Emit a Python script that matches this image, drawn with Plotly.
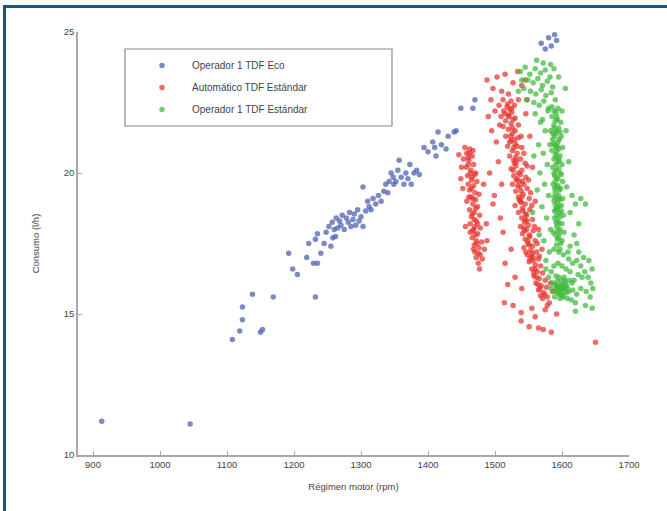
import plotly.graph_objects as go

# ---- data (rpm, l/h) ----
eco_points = [
    (913, 11.2), (1045, 11.1),
    (1108, 14.1), (1119, 14.4), (1123, 14.8), (1123, 15.25), (1138, 15.7), (1150, 14.35), (1153, 14.45),
    (1169, 15.6), (1232, 15.6),
    (1192, 17.15), (1198, 16.6), (1205, 16.4), (1219, 17.0), (1229, 16.8), (1235, 16.8), (1240, 17.15),
    (1222, 17.5), (1232, 17.65), (1235, 17.85), (1255, 17.4), (1258, 17.7), (1260, 18.0), (1263, 18.4),
    (1270, 18.15), (1275, 18.0), (1281, 18.25), (1283, 18.6), (1288, 18.35), (1292, 18.15), (1295, 18.7),
    (1300, 18.45), (1303, 18.1), (1303, 19.5), (1307, 18.65), (1312, 18.8), (1318, 19.1), (1322, 18.9),
    (1330, 19.0), (1334, 19.35), (1337, 19.6), (1342, 19.7), (1348, 19.85), (1349, 19.6), (1355, 20.1),
    (1357, 20.45), (1360, 19.85), (1364, 19.6), (1367, 20.0), (1373, 20.3), (1375, 19.6), (1379, 20.0),
    (1387, 19.95), (1394, 20.9), (1400, 20.75), (1407, 21.1), (1412, 20.6), (1415, 21.45), (1430, 21.3),
    (1427, 20.85), (1442, 21.5), (1439, 21.45),
    (1449, 22.3), (1467, 22.3), (1470, 22.6),
    (1569, 24.6), (1580, 24.8), (1589, 24.9), (1592, 24.7), (1584, 24.5), (1575, 24.4),
    (1248, 17.9), (1252, 18.1), (1257, 18.25), (1265, 18.05), (1268, 18.3), (1272, 18.5), (1278, 18.4),
    (1285, 18.1), (1290, 18.55), (1297, 18.3), (1310, 19.0), (1315, 18.7), (1326, 19.2), (1340, 19.3),
    (1345, 20.0), (1352, 19.7), (1370, 19.8), (1383, 20.1), (1245, 17.5), (1262, 17.75), (1410, 20.9),
    (1420, 21.0),
]

auto_points = [
    # left band
    (1455, 20.9), (1462, 20.85), (1458, 20.7), (1466, 20.6), (1453, 20.5), (1461, 20.45), (1468, 20.3),
    (1457, 20.2), (1464, 20.1), (1471, 20.0), (1459, 19.9), (1466, 19.85), (1473, 19.7), (1460, 19.6),
    (1468, 19.55), (1462, 19.4), (1470, 19.3), (1476, 19.25), (1464, 19.15), (1471, 19.05), (1458, 19.0),
    (1467, 18.9), (1474, 18.8), (1462, 18.7), (1469, 18.6), (1477, 18.5), (1465, 18.45), (1472, 18.3),
    (1463, 18.2), (1470, 18.1), (1478, 18.05), (1467, 17.95), (1474, 17.85), (1466, 17.7), (1472, 17.6),
    (1480, 17.55), (1469, 17.45), (1476, 17.35), (1470, 17.2), (1478, 17.1), (1472, 17.0), (1481, 16.95),
    (1475, 16.8), (1484, 17.3), (1452, 19.45), (1487, 18.2), (1456, 18.1), (1483, 19.6), (1450, 20.2),
    (1488, 17.6), (1477, 16.6), (1461, 19.15), (1465, 19.75), (1471, 18.75), (1468, 17.3), (1474, 18.2),
    (1460, 20.3), (1467, 20.8), (1463, 17.9), (1446, 20.65), (1449, 19.8),
    (1460, 20.55), (1463, 20.0), (1465, 19.45), (1467, 19.1), (1469, 18.35), (1471, 17.8), (1473, 17.5),
    (1475, 17.15), (1466, 18.55), (1462, 20.7), (1470, 19.95), (1468, 18.0),
    # main band
    (1512, 22.6), (1524, 22.55), (1535, 22.6), (1506, 22.4), (1518, 22.35), (1529, 22.4), (1513, 22.2),
    (1525, 22.15), (1520, 22.05), (1509, 22.0), (1530, 21.95), (1516, 21.85), (1524, 21.75), (1535, 21.7),
    (1512, 21.65), (1520, 21.55), (1530, 21.5), (1526, 21.4), (1516, 21.3), (1535, 21.25), (1524, 21.15),
    (1530, 21.05), (1519, 20.95), (1540, 20.9), (1526, 20.8), (1533, 20.7), (1522, 20.6), (1538, 20.5),
    (1528, 20.45), (1545, 20.35), (1531, 20.25), (1524, 20.15), (1540, 20.1), (1535, 20.0), (1528, 19.9),
    (1546, 19.85), (1532, 19.75), (1541, 19.7), (1526, 19.6), (1537, 19.5), (1548, 19.45), (1531, 19.35),
    (1542, 19.25), (1535, 19.15), (1551, 19.1), (1538, 19.0), (1545, 18.9), (1530, 18.85), (1541, 18.75),
    (1552, 18.7), (1535, 18.6), (1547, 18.5), (1540, 18.4), (1556, 18.35), (1544, 18.25), (1550, 18.15),
    (1538, 18.1), (1547, 18.0), (1557, 17.95), (1541, 17.85), (1552, 17.75), (1545, 17.65), (1560, 17.6),
    (1549, 17.5), (1556, 17.4), (1543, 17.35), (1553, 17.25), (1562, 17.2), (1548, 17.1), (1557, 17.0),
    (1565, 16.95), (1551, 16.85), (1560, 16.75), (1568, 16.7), (1555, 16.6), (1563, 16.5), (1571, 16.45),
    (1558, 16.35), (1566, 16.25), (1575, 16.2), (1561, 16.1), (1569, 16.0), (1577, 15.95), (1565, 15.85),
    (1572, 15.75), (1568, 15.65), (1578, 15.6),
    (1521, 22.0), (1527, 21.9), (1523, 21.3), (1533, 20.95), (1529, 20.35), (1538, 19.95), (1534, 19.55),
    (1543, 19.6), (1539, 18.95), (1546, 18.55), (1544, 17.95), (1551, 17.8), (1554, 17.05), (1560, 16.6),
    (1564, 16.05), (1574, 15.7),
    (1519, 22.45), (1522, 22.25), (1515, 22.1), (1526, 21.6), (1522, 21.1), (1528, 20.9), (1531, 20.55),
    (1527, 20.1), (1533, 19.8), (1539, 19.35), (1536, 19.05), (1542, 18.65), (1548, 18.3), (1543, 18.05),
    (1549, 17.6), (1546, 17.2), (1556, 17.15), (1552, 16.95), (1558, 16.45), (1562, 16.3), (1567, 15.9),
    (1571, 15.55), (1532, 20.4), (1536, 19.7), (1540, 19.15), (1545, 18.35), (1551, 17.45), (1557, 16.9),
    (1529, 21.2), (1525, 22.3),
    (1550, 19.75), (1553, 19.3), (1555, 18.85), (1559, 18.1), (1563, 17.5), (1566, 17.05), (1548, 20.25),
    (1543, 20.7), (1539, 21.3),
    # upper light region
    (1488, 23.3), (1497, 23.0), (1503, 23.4), (1510, 22.9), (1494, 22.6), (1515, 23.5), (1527, 23.2),
    (1520, 22.8), (1540, 23.1), (1500, 22.2), (1490, 22.0), (1534, 23.6), (1545, 23.3), (1548, 22.6),
    # scattered
    (1499, 19.2), (1497, 18.9), (1512, 17.9), (1524, 17.3), (1519, 16.05), (1514, 15.4), (1527, 15.3),
    (1539, 15.05), (1539, 14.75), (1551, 14.55), (1565, 14.5), (1572, 14.45), (1584, 14.35), (1592, 15.0),
    (1581, 15.4), (1650, 14.0), (1505, 20.4), (1502, 21.1), (1510, 19.6), (1495, 21.5), (1508, 18.4),
    (1515, 16.8), (1530, 16.3), (1540, 15.9), (1555, 15.2), (1560, 14.9), (1575, 15.15), (1492, 20.0),
    (1507, 21.7), (1546, 22.1), (1552, 21.3), (1556, 20.2), (1560, 19.0), (1565, 18.0), (1570, 17.3),
    (1583, 16.1), (1586, 15.8), (1578, 15.3),
]

std_points = [
    # top cluster
    (1538, 23.6), (1545, 23.75), (1552, 23.5), (1560, 23.7), (1568, 23.55), (1575, 23.65), (1582, 23.4),
    (1549, 23.3), (1557, 23.2), (1564, 23.35), (1571, 23.1), (1578, 23.25), (1586, 23.05), (1543, 23.0),
    (1553, 22.9), (1561, 22.8), (1569, 22.95), (1576, 22.75), (1584, 22.85), (1590, 22.6), (1547, 22.6),
    (1558, 22.5), (1566, 22.4), (1573, 22.55), (1580, 22.3), (1588, 22.2), (1592, 22.0), (1540, 23.3),
    (1595, 23.4), (1600, 22.2), (1535, 22.9), (1588, 23.7), (1562, 24.0), (1572, 23.9), (1583, 23.85),
    (1605, 23.0),
    # core band
    (1585, 22.0), (1593, 21.9), (1598, 21.8), (1588, 21.7), (1595, 21.6), (1583, 21.5), (1591, 21.4),
    (1599, 21.3), (1586, 21.2), (1594, 21.1), (1589, 21.0), (1601, 20.9), (1585, 20.8), (1592, 20.75),
    (1597, 20.6), (1588, 20.5), (1594, 20.4), (1600, 20.3), (1586, 20.2), (1591, 20.1), (1597, 20.0),
    (1589, 19.9), (1594, 19.8), (1601, 19.7), (1587, 19.6), (1592, 19.5), (1598, 19.45), (1590, 19.3),
    (1595, 19.2), (1601, 19.1), (1588, 19.0), (1593, 18.95), (1599, 18.85), (1591, 18.7), (1596, 18.6),
    (1602, 18.5), (1589, 18.4), (1594, 18.3), (1600, 18.2), (1592, 18.1), (1597, 18.0), (1603, 17.9),
    (1590, 17.8), (1595, 17.7), (1600, 17.6),
    (1590, 21.85), (1596, 21.2), (1592, 20.55), (1590, 19.7), (1596, 19.4), (1593, 18.75), (1597, 18.45),
    (1594, 17.95), (1598, 17.5), (1592, 17.45), (1587, 21.05), (1595, 20.85), (1591, 20.3), (1589, 18.65),
    (1587, 17.9),
    (1588, 21.6), (1592, 21.5), (1589, 21.3), (1593, 20.95), (1590, 20.65), (1595, 20.15), (1588, 20.0),
    (1592, 19.85), (1594, 19.55), (1589, 19.45), (1593, 19.1), (1597, 19.05), (1590, 18.85), (1595, 18.8),
    (1592, 18.5), (1595, 18.2), (1591, 18.25), (1596, 17.85), (1593, 17.65), (1597, 17.3), (1586, 21.4),
    (1591, 20.9), (1596, 20.45), (1588, 19.15), (1599, 19.95), (1597, 21.45), (1591, 22.15), (1585, 22.35),
    (1594, 22.3), (1599, 18.65),
    # left edge
    (1560, 22.1), (1568, 21.8), (1575, 21.5), (1565, 21.0), (1572, 20.7), (1578, 20.3), (1567, 20.0),
    (1574, 19.6), (1580, 19.2), (1570, 18.8), (1577, 18.4), (1583, 18.0), (1573, 17.6), (1581, 17.2),
    (1576, 16.9), (1563, 19.4), (1558, 20.6), (1571, 21.9), (1579, 22.2), (1582, 21.0), (1556, 18.6),
    (1566, 17.8),
    # right edge
    (1606, 21.5), (1610, 20.4), (1607, 19.5), (1612, 18.6), (1615, 19.2), (1620, 18.9), (1628, 19.1),
    (1618, 17.8), (1609, 17.2), (1622, 17.5), (1635, 18.9), (1625, 18.2),
    # lower ring
    (1588, 17.3), (1595, 17.2), (1602, 17.1), (1610, 16.95), (1616, 16.8), (1622, 16.9), (1628, 16.7),
    (1634, 16.5), (1639, 16.3), (1643, 16.1), (1630, 16.3), (1624, 16.4), (1618, 16.2), (1612, 16.5),
    (1606, 16.6), (1600, 16.7), (1594, 16.8), (1588, 16.7), (1584, 16.5), (1580, 16.3), (1586, 16.1),
    (1592, 16.0), (1598, 15.9), (1604, 15.95), (1610, 15.8), (1616, 15.85), (1622, 15.7), (1628, 15.9),
    (1636, 15.8), (1642, 15.6), (1646, 15.9), (1590, 15.8), (1596, 15.7), (1602, 15.6), (1608, 15.55),
    (1614, 15.5), (1620, 15.4), (1594, 15.95), (1600, 16.05), (1606, 15.75), (1597, 15.55), (1603, 16.3),
    (1591, 16.35), (1615, 16.1), (1632, 17.0), (1640, 16.9), (1645, 16.6), (1625, 17.2), (1612, 17.4),
    (1584, 15.9), (1589, 15.6), (1620, 15.1), (1635, 15.3), (1645, 15.2), (1576, 16.6),
    (1593, 16.15), (1599, 16.2), (1605, 16.1), (1596, 15.85), (1601, 15.8), (1607, 16.0), (1590, 16.05),
    (1611, 16.2),
    (1595, 16.3), (1598, 16.0), (1602, 15.9), (1594, 15.75), (1600, 15.65), (1604, 16.2), (1592, 15.9),
    (1608, 15.9),
]

series_names = ["Operador 1 TDF Eco", "Automático TDF Estándar", "Operador 1 TDF Estándar"]
series_points = [eco_points, auto_points, std_points]
series_colors = ["#4a5cb4", "#e8332d", "#3fb83a"]

x_ticks = [900, 1000, 1100, 1200, 1300, 1400, 1500, 1600, 1700]
y_ticks = [10, 15, 20, 25]

# ---- figure ----
W, H = 667, 511
L, R, T, B = 78, 38, 32, 56
pw, ph = W - L - R, H - T - B

fig = go.Figure()
for i, (name, pts, col) in enumerate(zip(series_names, series_points, series_colors)):
    fig.add_trace(go.Scatter(
        x=[p[0] for p in pts], y=[p[1] for p in pts], mode="markers", name=name,
        legendgroup=f"g{i}",
        marker=dict(color=col, size=5.5, opacity=0.72, line=dict(width=0)),
    ))

def px_x(p):
    return (p - L) / pw

def px_y(p):
    return (H - B - p) / ph

shapes = [
    # legend box
    dict(type="rect", xref="paper", yref="paper", x0=px_x(125), x1=px_x(392), y0=px_y(126), y1=px_y(49),
         line=dict(color="#8a8a8a", width=1.2), fillcolor="rgba(0,0,0,0)", layer="above"),
    # frame border (top and left)
    dict(type="line", xref="paper", yref="paper", x0=px_x(3), x1=px_x(667), y0=px_y(6.5), y1=px_y(6.5),
         line=dict(color="#17587a", width=3)),
    dict(type="line", xref="paper", yref="paper", x0=px_x(4.5), x1=px_x(4.5), y0=px_y(511), y1=px_y(5),
         line=dict(color="#17587a", width=3)),
]

axis_font = dict(family="Liberation Sans, Arial, sans-serif", size=9.5, color="#444")

fig.update_layout(
    width=W, height=H,
    margin=dict(l=L, r=R, t=T, b=B, pad=0),
    paper_bgcolor="white", plot_bgcolor="white",
    font=axis_font,
    shapes=shapes,
    showlegend=True,
    legend=dict(
        x=px_x(132), y=px_y(51), xanchor="left", yanchor="top",
        bgcolor="rgba(0,0,0,0)", borderwidth=0,
        font=dict(family="Liberation Sans, Arial, sans-serif", size=10, color="#444"),
        traceorder="grouped", tracegroupgap=3, itemwidth=50,
    ),
    xaxis=dict(
        range=[877.6, 1700], tickvals=x_ticks, ticktext=[str(v) for v in x_ticks],
        showgrid=False, zeroline=False, showline=True, linecolor="#a8a8a8", linewidth=1.5,
        ticks="inside", ticklen=4, tickcolor="#a8a8a8", tickwidth=1,
        title=dict(text="Régimen motor (rpm)", standoff=14, font=dict(size=9.5, color="#444")),
    ),
    yaxis=dict(
        range=[10, 25], tickvals=y_ticks, ticktext=[str(v) for v in y_ticks],
        showgrid=False, zeroline=False, showline=True, linecolor="#a8a8a8", linewidth=1.5,
        ticks="inside", ticklen=4, tickcolor="#a8a8a8", tickwidth=1,
        title=dict(text="Consumo (l/h)", standoff=22, font=dict(size=9.5, color="#444")),
    ),
)

fig.write_html("out.html")
